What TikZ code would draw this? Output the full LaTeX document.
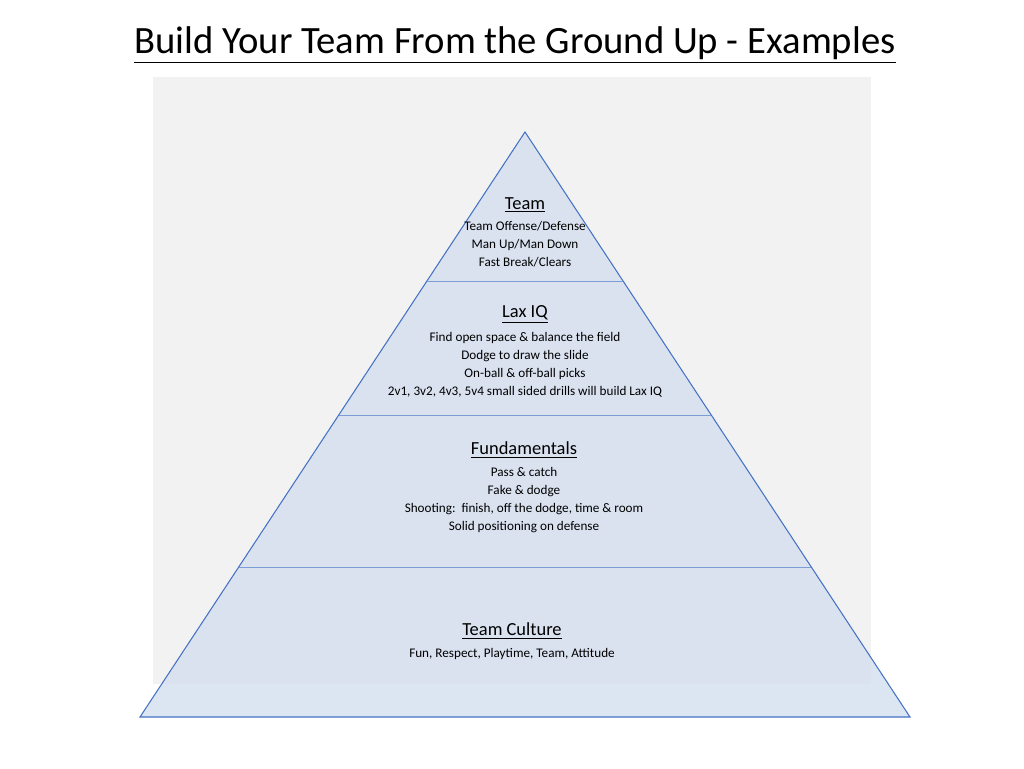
\documentclass[tikz,border=0pt]{standalone}
\usepackage{fontspec}
\setmainfont{Carlito}
\usetikzlibrary{calc, positioning}
\definecolor{slidegray}{rgb}{0.95, 0.95, 0.95}
\definecolor{layerblue}{rgb}{0.84, 0.88, 0.94}
\definecolor{edgeblue}{rgb}{0.27, 0.45, 0.77}

\begin{document}
\begin{tikzpicture}[x=0.02cm, y=-0.02cm, head/.style={font=\fontsize{10.5}{12}\selectfont}, body/.style={font=\fontsize{7.5}{10.3}\selectfont, align=center}]
			 \useasboundingbox (0,0) rectangle (1024,768);
			 \fill [slidegray] (153,77) rectangle (871,684);
			 \coordinate (APEX) at (525,132);
			 \coordinate (BL) at (140,717);
			 \coordinate (BR) at (910,717);
			 \filldraw [fill=layerblue, fill opacity=0.85, draw=edgeblue, semithick] (APEX) -- (BL) -- (BR) -- cycle;
			 % layer dividers
			 \foreach \t in {0.2547, 0.4838, 0.7436}
			 	\draw [edgeblue!70, thin] ($(APEX)!\t!(BL)$) -- ($(APEX)!\t!(BR)$);
			 \node [font=\fontsize{22}{26}\selectfont] (TITLE) at (515,45) {\underline{Build Your Team From the Ground Up - Examples}};
			 \node [head] (TEAM) at (525,205) {\underline{Team}};
			 \node [body, below=-2pt of TEAM] (TEAMTXT) {Team Offense/Defense\\Man Up/Man Down\\Fast Break/Clears};
			 \node [head] (LAXIQ) at (525,314) {\underline{Lax IQ}};
			 \node [body, below=-2pt of LAXIQ] (LAXIQTXT) {Find open space \& balance the field\\Dodge to draw the slide\\On-ball \& off-ball picks\\2v1, 3v2, 4v3, 5v4 small sided drills will build Lax IQ};
			 \node [head] (FUND) at (524,450) {\underline{Fundamentals}};
			 \node [body, below=-2pt of FUND] (FUNDTXT) {Pass \& catch\\Fake \& dodge\\Shooting:\ \ finish, off the dodge, time \& room\\Solid positioning on defense};
			 \node [head] (CULT) at (512,631) {\underline{Team Culture}};
			 \node [body, below=-2pt of CULT] (CULTTXT) {Fun, Respect, Playtime, Team, Attitude};
		\end{tikzpicture}
\end{document}
